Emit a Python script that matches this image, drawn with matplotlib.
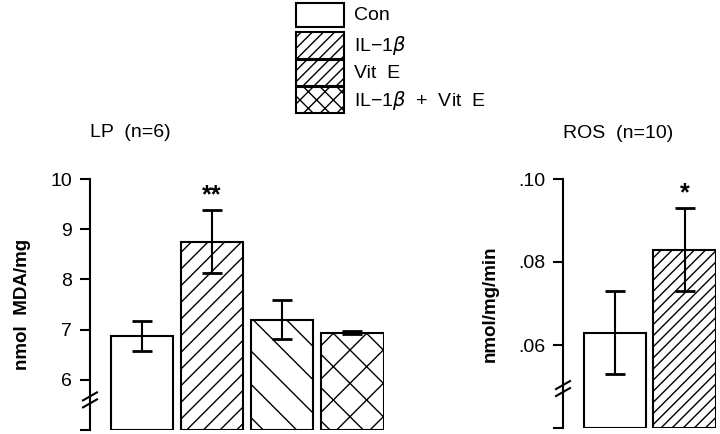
import matplotlib
matplotlib.use("Agg")
import matplotlib.pyplot as plt
from matplotlib.patches import Rectangle

plt.rcParams['font.family'] = ['Liberation Sans', 'DejaVu Sans']
plt.rcParams['hatch.linewidth'] = 1.0

# legend entries
groups = ["Con", "IL\u22121$\\beta$", "Vit  E", "IL\u22121$\\beta$  +  Vit  E"]
legend_hatches = ["", "///", "///", "xx"]

# LP panel
lp_values = [6.88, 8.75, 7.20, 6.94]
lp_errors = [0.30, 0.63, 0.39, 0.03]
lp_hatches = ["", "//", "\\", "x"]
lp_stars = ["", "**", "", ""]
lp_ticks = [5, 6, 7, 8, 9, 10]
lp_ticklabels = ["", "6", "7", "8", "9", "10"]

# ROS panel
ros_values = [0.063, 0.083]
ros_errors = [0.010, 0.010]
ros_hatches = ["", "///"]
ros_stars = ["", "*"]
ros_ticks = [0.04, 0.06, 0.08, 0.10]
ros_ticklabels = ["", ".06", ".08", ".10"]

W, H = 720, 434
fig = plt.figure(figsize=(7.2, 4.34), dpi=100)


def panel(left_px, bottom_px, right_px, top_px, values, errors, hatches, stars,
          ticks, ticklabels, ylabel, title, brk):
    ax = fig.add_axes([left_px / W, (H - bottom_px) / H,
                       (right_px - left_px) / W, (bottom_px - top_px) / H])
    x = list(range(len(values)))
    ax.bar(x, [v - ticks[0] for v in values], bottom=ticks[0], width=0.886,
           color="white", edgecolor="black", linewidth=1.5, hatch=hatches)
    ax.errorbar(x, values, yerr=errors, fmt="none", ecolor="black",
                elinewidth=1.5, capsize=7, capthick=2)
    for xi, v, e, s in zip(x, values, errors, stars):
        if s:
            ax.text(xi, v + e + (ticks[-1] - ticks[0]) * 0.012, s, ha="center",
                    va="bottom", fontsize=18, fontweight="bold")
    ax.set_xlim(-0.736, len(values) - 1 + 0.45)
    ax.set_ylim(ticks[0], ticks[-1])
    ax.set_yticks(ticks)
    ax.set_yticklabels(ticklabels, fontsize=14)
    ax.set_xticks([])
    for sp in ["top", "right", "bottom"]:
        ax.spines[sp].set_visible(False)
    ax.spines["left"].set_linewidth(1.5)
    ax.spines["left"].set_bounds(ticks[0], ticks[-1])
    ax.tick_params(axis="y", direction="out", length=7, width=1.5, pad=6)
    ax.set_ylabel(ylabel, fontsize=13.5, fontweight="bold", labelpad=14)
    ax.text(0, 1.15, title, transform=ax.transAxes, fontsize=14, ha="left",
            va="bottom")
    # axis break marks
    tr = ax.get_yaxis_transform()
    dx = 7 / (right_px - left_px)
    span = ticks[-1] - ticks[0]
    dy = span * 4 / (bottom_px - top_px)
    gap = span * 3.5 / (bottom_px - top_px)
    for off in (-gap, gap):
        ax.plot([-dx, dx], [brk + off - dy, brk + off + dy], color="black",
                lw=1.5, transform=tr, clip_on=False)
    ax.plot([-dx * 0.5, dx * 0.5], [brk - gap * 0.6, brk + gap * 0.6],
            color="white", lw=2.5, transform=tr, clip_on=False, zorder=1)
    return ax


panel(90, 430, 384, 179, lp_values, lp_errors, lp_hatches, lp_stars,
      lp_ticks, lp_ticklabels, "nmol  MDA/mg", "LP  (n=6)", 5.6)
panel(563, 428, 716, 179, ros_values, ros_errors, ros_hatches, ros_stars,
      ros_ticks, ros_ticklabels, "nmol/mg/min", "ROS  (n=10)", 0.0495)

# legend block
lax = fig.add_axes([0, 0, 1, 1])
lax.set_xlim(0, W)
lax.set_ylim(H, 0)
lax.axis("off")
rows = [(3, 27), (32, 59), (60, 86), (87, 113)]
for (y0, y1), lab, h in zip(rows, groups, legend_hatches):
    lax.add_patch(Rectangle((296, y0), 48, y1 - y0, facecolor="white",
                            edgecolor="black", linewidth=1.5, hatch=h))
    lax.text(354, (y0 + y1) / 2, lab, fontsize=14, va="center", ha="left")

fig.savefig("out.png", dpi=100)
